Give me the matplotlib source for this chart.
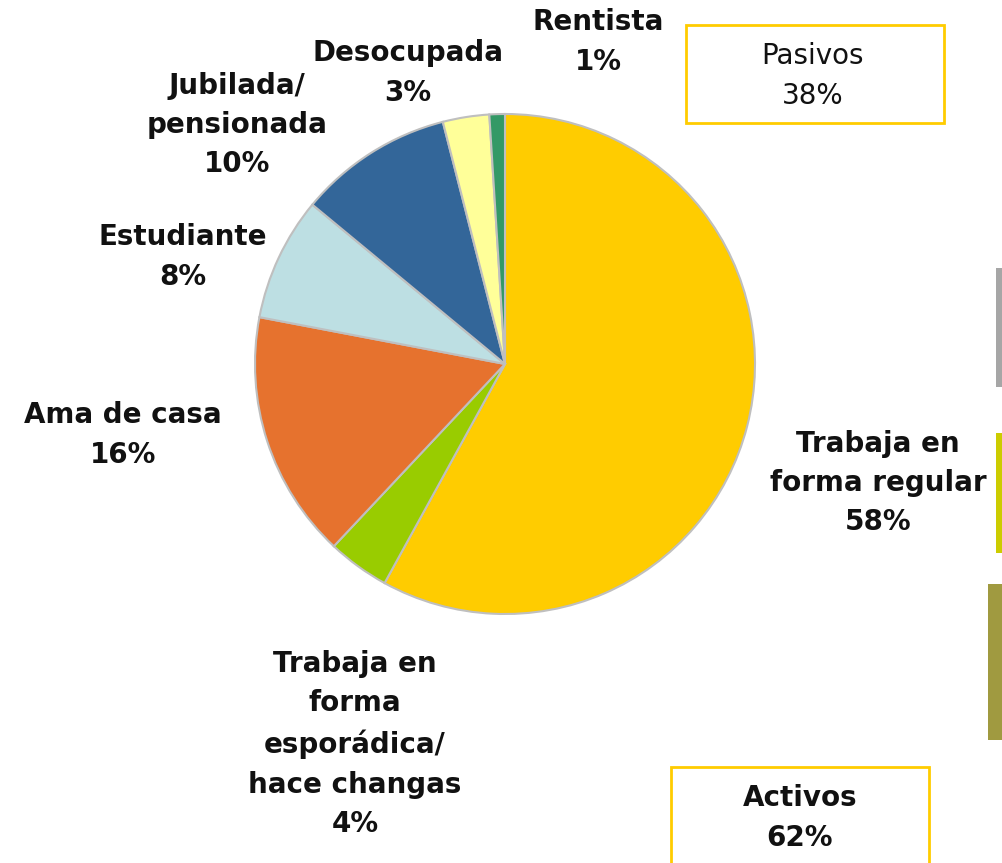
import matplotlib
matplotlib.use("Agg")
import matplotlib.pyplot as plt
from matplotlib.patches import Rectangle

plt.rcParams["font.family"] = ["DejaVu Sans"]

labels = ["Trabaja en\nforma regular", "Trabaja en\nforma\nesporádica/\nhace changas",
          "Ama de casa", "Estudiante", "Jubilada/\npensionada", "Desocupada", "Rentista"]
values = [58, 4, 16, 8, 10, 3, 1]
colors = ["#FFCC00", "#99CC00", "#E6722E", "#BDDFE3", "#336699", "#FFFF99", "#339966"]
# label centres in pixel coords (x, y from top)
label_pos = [(878, 483), (355, 744), (123, 435), (183, 257), (237, 125), (408, 73), (598, 42)]

groups = ["Pasivos", "Activos"]
group_values = [38, 62]
group_weight = ["normal", "bold"]

W, H = 1003, 863
fig = plt.figure(figsize=(W / 100, H / 100), dpi=100)
ax = fig.add_axes([0, 0, 1, 1])

ax.pie(values, colors=colors, startangle=90, counterclock=False,
       center=(505, H - 364), radius=250, frame=True,
       wedgeprops=dict(edgecolor="#BFBFBF", linewidth=1.5))
ax.set_xlim(0, W)
ax.set_ylim(0, H)
ax.axis("off")

fs = 20
ls = 1.52
for lab, v, (x, y) in zip(labels, values, label_pos):
    ax.text(x, H - y, f"{lab}\n{v}%", ha="center", va="center", fontsize=fs,
            fontweight="bold", linespacing=ls, color="#111111")

# group boxes
boxes = [(686, 25, 258, 98, 813, 76), (671, 767, 258, 110, 800, 818)]
for g, gv, wt, (bx, by, bw, bh, tx, ty) in zip(groups, group_values, group_weight, boxes):
    ax.add_patch(Rectangle((bx, H - by - bh), bw, bh, facecolor="white",
                           edgecolor="#FFCC00", linewidth=2, clip_on=False))
    ax.text(tx, H - ty, f"{g}\n{gv}%", ha="center", va="center", fontsize=fs,
            fontweight=wt, linespacing=ls, color="#111111")

# decorative bars on the right edge
ax.add_patch(Rectangle((996, H - 387), 7, 119, facecolor="#A6A6A6", edgecolor="none"))
ax.add_patch(Rectangle((996, H - 553), 7, 120, facecolor="#CCCC00", edgecolor="none"))
ax.add_patch(Rectangle((988, H - 740), 15, 156, facecolor="#A09A40", edgecolor="none"))

fig.savefig("out.png", dpi=100)
